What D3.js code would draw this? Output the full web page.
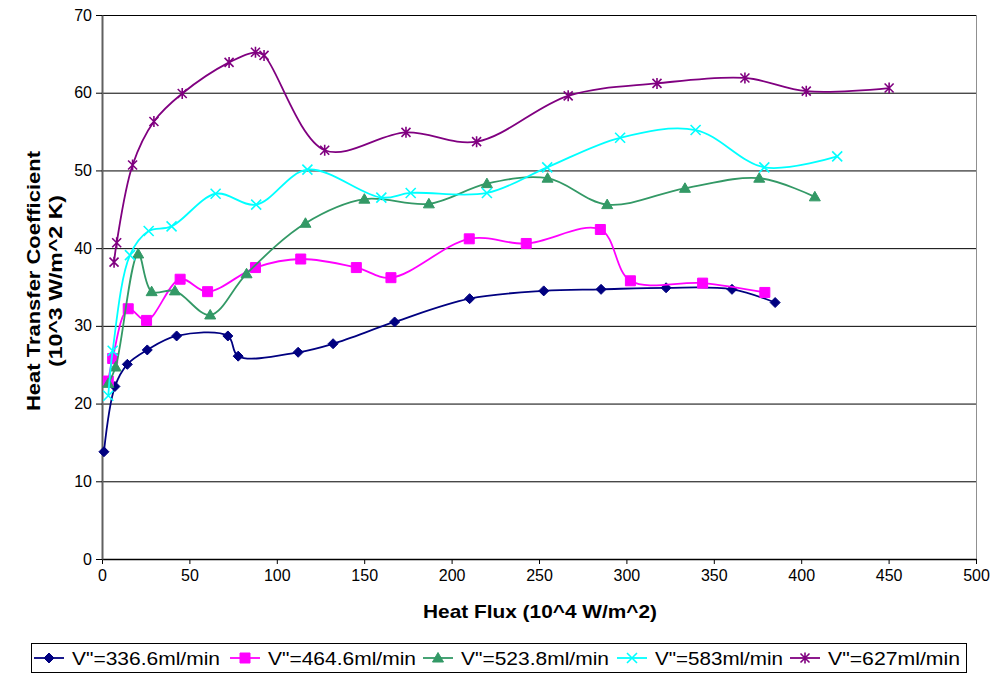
<!DOCTYPE html>
<html>
<head>
<meta charset="utf-8">
<script src="https://cdn.jsdelivr.net/npm/d3@7"></script>
<style>
  body { margin: 0; background: #fff; }
  text { font-family: "Liberation Sans", Arial, sans-serif; }
</style>
</head>
<body>
<div class="container"></div>
<script>
// series data (x = heat flux, y = heat transfer coefficient)
let names = ['V"=336.6ml/min', 'V"=464.6ml/min', 'V"=523.8ml/min', 'V"=583ml/min', 'V"=627ml/min'];
let colors = ['#000080', '#ff00ff', '#339966', '#00ffff', '#800080'];
let markers = ['diamond', 'square', 'triangle', 'cross', 'star'];

let x1 = [1.1, 7.4, 14.5, 25.9, 42.7, 72, 77.9, 112.2, 132.2, 167.4, 210.3, 252.7, 285.5, 322.7, 360.4, 385.1];
let y1 = [13.8, 22.2, 25.05, 26.9, 28.7, 28.7, 26.1, 26.6, 27.7, 30.5, 33.5, 34.5, 34.7, 34.9, 34.7, 33.0];

let x2 = [3.6, 6.1, 15, 25.5, 44.7, 60.4, 87.8, 113.7, 145.5, 165.3, 210.1, 242.7, 285.1, 302.3, 343.6, 379.2];
let y2 = [22.9, 25.8, 32.2, 30.7, 36.0, 34.4, 37.5, 38.6, 37.5, 36.2, 41.2, 40.6, 42.4, 35.8, 35.5, 34.3];

let x3 = [3.6, 7.8, 20.7, 28.4, 41.7, 61.9, 82.7, 116.4, 150.1, 187, 220.2, 254.9, 289, 333.5, 376, 407.8];
let y3 = [22.6, 24.7, 39.25, 34.4, 34.5, 31.4, 36.7, 43.2, 46.3, 45.7, 48.3, 49.0, 45.6, 47.7, 49.0, 46.6];

let x4 = [3.6, 6.1, 16, 26.7, 39.8, 65, 88.2, 117.5, 159.8, 176.6, 220.2, 254.7, 296.4, 339.6, 378.9, 420.6];
let y4 = [21.0, 26.8, 39.1, 42.2, 42.8, 47.0, 45.6, 50.1, 46.5, 47.1, 47.1, 50.4, 54.2, 55.2, 50.4, 51.8];

let x5 = [6.9, 8.4, 17.5, 29.7, 45.9, 72.7, 87.8, 92.7, 127.4, 173.9, 214.3, 266.7, 317.5, 367.8, 402.9, 450.3];
let y5 = [38.2, 40.7, 50.7, 56.3, 59.9, 63.9, 65.2, 64.8, 52.6, 54.9, 53.7, 59.6, 61.2, 61.9, 60.2, 60.6];

let xTicks = [0, 50, 100, 150, 200, 250, 300, 350, 400, 450, 500];
let yTicks = [0, 10, 20, 30, 40, 50, 60, 70];

let xs = [x1, x2, x3, x4, x5];
let ys = [y1, y2, y3, y4, y5];

let margin = { top: 15, right: 17, bottom: 115, left: 102 };
let totalW = 993, totalH = 674;
let width = totalW - margin.left - margin.right;
let height = totalH - margin.top - margin.bottom;

let svg = d3
  .select('.container')
  .append('svg')
  .attr('width', totalW)
  .attr('height', totalH);

let g = svg.append('g').attr('transform', 'translate(' + margin.left + ',' + margin.top + ')');

let xScale = d3.scaleLinear().domain([0, 500]).range([0, width]);
let yScale = d3.scaleLinear().domain([0, 70]).range([height, 0]);

// gridlines
g.append('g')
  .selectAll('line')
  .data(yTicks.filter((d) => d > 0))
  .enter()
  .append('line')
  .attr('x1', 0)
  .attr('x2', width)
  .attr('y1', (d) => yScale(d) + 0.5)
  .attr('y2', (d) => yScale(d) + 0.5)
  .attr('stroke', '#000')
  .attr('stroke-width', 1);

// right border of plot area
g.append('line')
  .attr('x1', width + 0.5).attr('x2', width + 0.5)
  .attr('y1', 0).attr('y2', height)
  .attr('stroke', '#909090');

let xAxis = d3.axisBottom(xScale).tickValues(xTicks).tickSize(5).tickPadding(6).tickSizeOuter(0);
let yAxis = d3.axisLeft(yScale).tickValues(yTicks).tickSize(6).tickPadding(4).tickSizeOuter(0);

let gx = g.append('g').attr('transform', 'translate(0,' + height + ')').call(xAxis);
let gy = g.append('g').call(yAxis);

[gx, gy].forEach((a) => {
  a.selectAll('text').style('font-size', '16px').attr('fill', '#000');
  a.selectAll('line').attr('stroke', '#000');
});
gx.select('.domain').attr('stroke', '#000').attr('stroke-width', 1.5);
gy.select('.domain').attr('stroke', '#606060').attr('stroke-width', 2);

// axis titles
svg.append('text')
  .attr('x', margin.left + width / 2 + 1)
  .attr('y', 618)
  .attr('text-anchor', 'middle')
  .style('font-size', '19px')
  .style('font-weight', 'bold')
  .attr('textLength', 234)
  .attr('lengthAdjust', 'spacingAndGlyphs')
  .text('Heat Flux (10^4 W/m^2)');

let yt = svg.append('g').attr('transform', 'translate(0,' + (margin.top + height / 2 - 6) + ') rotate(-90)');
yt.append('text')
  .attr('x', 0).attr('y', 40)
  .attr('text-anchor', 'middle')
  .style('font-size', '19px')
  .style('font-weight', 'bold')
  .attr('textLength', 260)
  .attr('lengthAdjust', 'spacingAndGlyphs')
  .text('Heat Transfer Coefficient');
yt.append('text')
  .attr('x', 0).attr('y', 62)
  .attr('text-anchor', 'middle')
  .style('font-size', '19px')
  .style('font-weight', 'bold')
  .attr('textLength', 172)
  .attr('lengthAdjust', 'spacingAndGlyphs')
  .text('(10^3 W/m^2 K)');

function markerPath(type) {
  if (type === 'diamond') return 'M0,-5L5,0L0,5L-5,0Z';
  if (type === 'square') return 'M-5,-5h10v10h-10Z';
  if (type === 'triangle') return 'M0,-5.5L5.5,4L-5.5,4Z';
  if (type === 'cross') return 'M-5,-5L5,5M-5,5L5,-5';
  return 'M-4.5,-4.5L4.5,4.5M-4.5,4.5L4.5,-4.5M0,-5.5V5.5';
}

function drawMarker(sel, type, color) {
  let filled = type === 'diamond' || type === 'square' || type === 'triangle';
  sel.append('path')
    .attr('d', markerPath(type))
    .attr('fill', filled ? color : 'none')
    .attr('stroke', color)
    .attr('stroke-width', filled ? 1 : 1.6);
}

let line = d3
  .line()
  .x((d) => xScale(d[0]))
  .y((d) => yScale(d[1]))
  .curve(d3.curveCatmullRom.alpha(0.5));

xs.forEach((xv, i) => {
  let pts = xv.map((x, j) => [x, ys[i][j]]);
  let sg = g.append('g');
  sg.append('path')
    .attr('d', line(pts))
    .attr('fill', 'none')
    .attr('stroke', colors[i])
    .attr('stroke-width', 1.8);
  sg.selectAll('.pt')
    .data(pts)
    .enter()
    .append('g')
    .attr('transform', (d) => 'translate(' + xScale(d[0]) + ',' + yScale(d[1]) + ')')
    .each(function () {
      drawMarker(d3.select(this), markers[i], colors[i]);
    });
});

// legend
let legX = [34, 230, 423, 617, 790];
let legW = [148, 148, 148, 128, 132];
svg.append('rect')
  .attr('x', 31.5).attr('y', 643.5)
  .attr('width', 935).attr('height', 29)
  .attr('fill', '#fff')
  .attr('stroke', '#000');

names.forEach((n, i) => {
  let lg = svg.append('g').attr('transform', 'translate(' + legX[i] + ',658)');
  lg.append('line').attr('x1', 0).attr('x2', 30).attr('stroke', colors[i]).attr('stroke-width', 1.8);
  let m = lg.append('g').attr('transform', 'translate(15,0)');
  drawMarker(m, markers[i], colors[i]);
  lg.append('text')
    .attr('x', 38)
    .attr('y', 7)
    .style('font-size', '19px')
    .attr('textLength', legW[i])
    .attr('lengthAdjust', 'spacingAndGlyphs')
    .text(n);
});
</script>
</body>
</html>
